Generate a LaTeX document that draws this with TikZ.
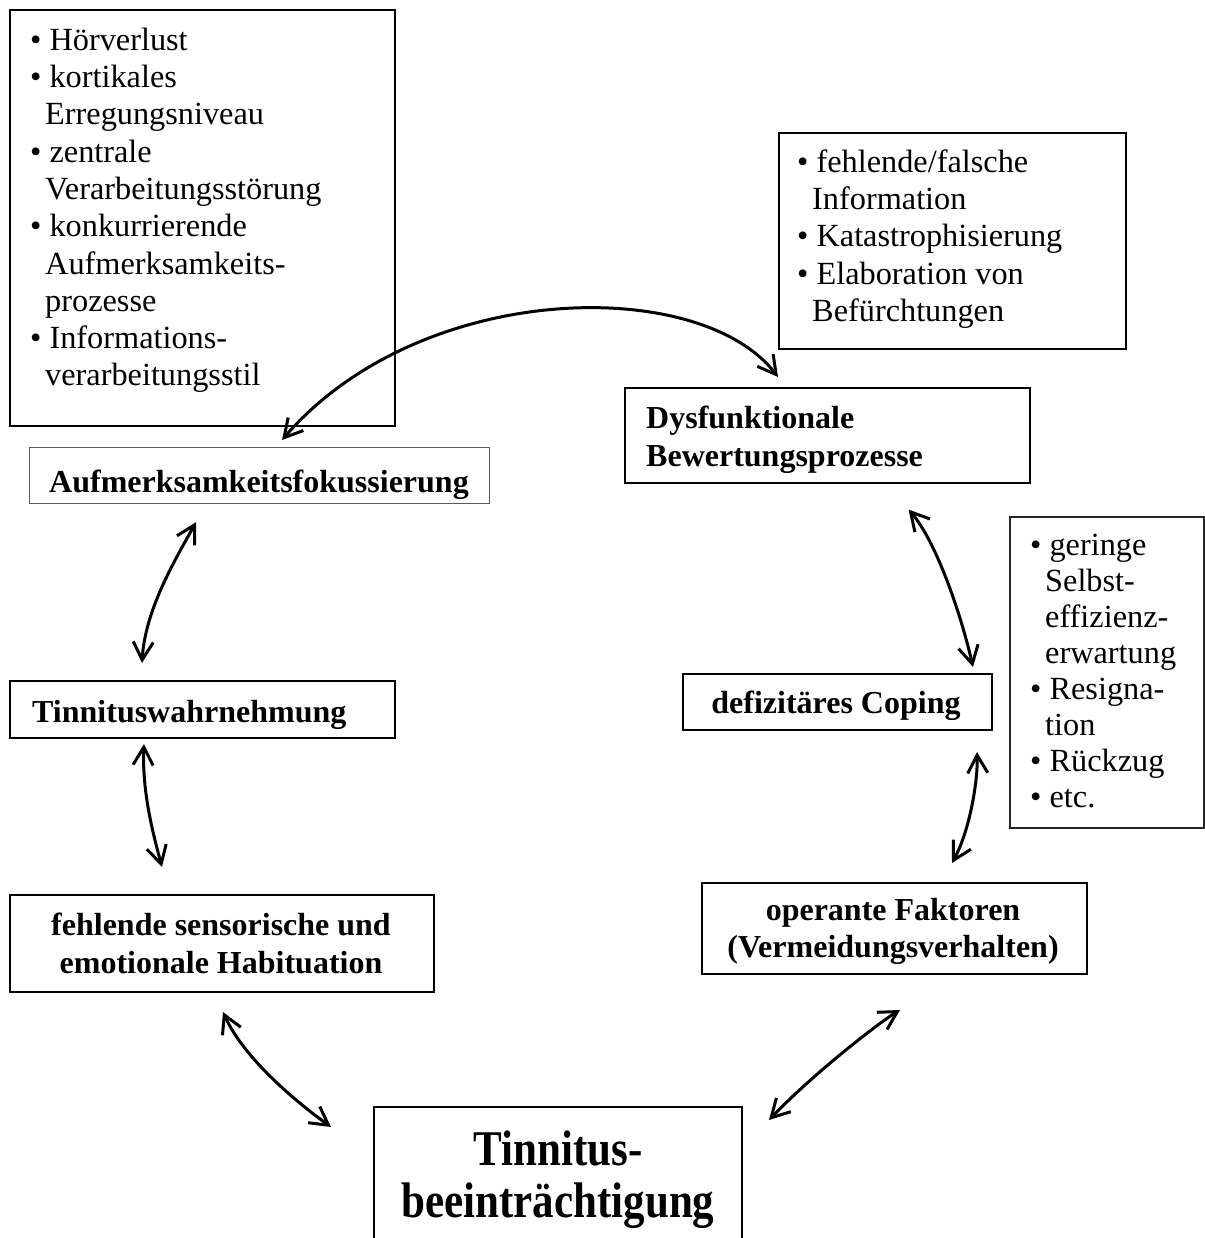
\documentclass[tikz,border=0pt]{standalone}
\usepackage{fontspec}
\setmainfont{Liberation Serif}
\usetikzlibrary{arrows.meta}
\newcommand\firstline[1]{\rule{0pt}{#1}}
\newcommand\cont{\hspace*{15pt}}
\begin{document}
\begin{tikzpicture}[x=1pt,y=-1pt,
  box/.style={draw=black, line width=2pt, inner sep=0pt, anchor=north west},
  thinbox/.style={draw=black!65, line width=1.2pt, inner sep=0pt, anchor=north west},
  listtext/.style={anchor=north west, inner sep=0pt, align=left, font=\fontsize{32.3}{37.3}\selectfont},
  lbl/.style={inner sep=0pt, font=\fontsize{32}{38}\selectfont\bfseries},
  link/.style={line width=3pt, {Straight Barb[length=18pt,width=20pt]}-{Straight Barb[length=18pt,width=20pt]}}
]
\path[use as bounding box] (0,0) rectangle (1204,1238);

% boxes
\node[box, minimum width=385pt, minimum height=416pt] (A) at (9,9) {};
\node[thinbox, minimum width=460pt, minimum height=56pt] (B) at (29,447) {};
\node[box, minimum width=347pt, minimum height=216pt] (C) at (778,132) {};
\node[box, line width=1.6pt, minimum width=405pt, minimum height=95pt] (D) at (624,387) {};
\node[box, minimum width=385pt, minimum height=57pt] (E) at (9,680) {};
\node[box, minimum width=424pt, minimum height=97pt] (F) at (9,894) {};
\node[box, draw=none, minimum width=366pt, minimum height=140pt] (G) at (374,1107) {};
\draw[line width=2pt] (G.south west) -- (G.north west) -- (G.north east) -- (G.south east);
\node[box, minimum width=309pt, minimum height=56pt] (H) at (682,673) {};
\node[box, draw=black!85, minimum width=194pt, minimum height=311pt] (I) at (1009,516) {};
\node[box, minimum width=385pt, minimum height=91pt] (J) at (701,882) {};

% list texts
\node[listtext] (At) at (30,23.8) {\firstline{26.2pt}\textbullet\ Hörverlust\\
\textbullet\ kortikales\\
\cont Erregungsniveau\\
\textbullet\ zentrale\\
\cont Verarbeitungsstörung\\
\textbullet\ konkurrierende\\
\cont Aufmerksamkeits-\\
\cont prozesse\\
\textbullet\ Informations-\\
\cont verarbeitungsstil};

\node[listtext] (Ct) at (797,145.8) {\firstline{26.2pt}\textbullet\ fehlende/falsche\\
\cont Information\\
\textbullet\ Katastrophisierung\\
\textbullet\ Elaboration von\\
\cont Befürchtungen};

\node[listtext, font=\fontsize{32.3}{36.1}\selectfont] (It) at (1030,528.8) {\firstline{26.2pt}\textbullet\ geringe\\
\cont Selbst-\\
\cont effizienz-\\
\cont erwartung\\
\textbullet\ Resigna-\\
\cont tion\\
\textbullet\ Rückzug\\
\textbullet\ etc.};

% labels
\node[lbl, anchor=base] (Bt) at (259,492) {Aufmerksamkeitsfokussierung};
\node[lbl, anchor=north west, align=left] (Dt) at (646,401.8) {\firstline{26.2pt}Dysfunktionale\\Bewertungsprozesse};
\node[lbl, anchor=base west] (Et) at (32,722) {Tinnituswahrnehmung};
\node[lbl, anchor=north, align=center] (Ft) at (221,908.8) {\firstline{26.2pt}fehlende sensorische und\\emotionale Habituation};
\node[lbl, anchor=base] (Ht) at (836,713) {defizitäres Coping};
\node[lbl, anchor=north, align=center, font=\fontsize{32}{37}\selectfont\bfseries] (Jt) at (893,893.8) {\firstline{26.2pt}operante Faktoren\\(Vermeidungsverhalten)};
\node[inner sep=0pt, anchor=north, align=center, xscale=0.86, transform shape, font=\fontsize{50}{52}\selectfont\bfseries] (Gt) at (558,1120) {\firstline{45pt}Tinnitus-\\beeinträchtigung};

% connectors
\draw[link] ([shift={(253,-7)}]B.north west) .. controls (420,280) and (700,275) .. ([shift={(154,-10)}]D.north west);
\draw[link] ([shift={(167,18)}]B.south west) .. controls (175,560) and (145,610) .. ([shift={(133,-17)}]E.north west);
\draw[link] ([shift={(135,5)}]E.south west) .. controls (142,790) and (152,830) .. ([shift={(153,-27)}]F.north west);
\draw[link] ([shift={(214,19)}]F.south west) .. controls (240,1050) and (280,1090) .. ([shift={(-43,20)}]G.north west);
\draw[link] ([shift={(27,13)}]G.north east) .. controls (815,1072) and (880,1022) .. ([shift={(199,35)}]J.south west);
\draw[link] ([shift={(251,-19)}]J.north west) .. controls (970,830) and (978,780) .. ([shift={(-16,21)}]H.south east);
\draw[link] ([shift={(-20,-6)}]H.north east) .. controls (960,610) and (935,540) .. ([shift={(-122,26)}]D.south east);
\end{tikzpicture}
\end{document}
